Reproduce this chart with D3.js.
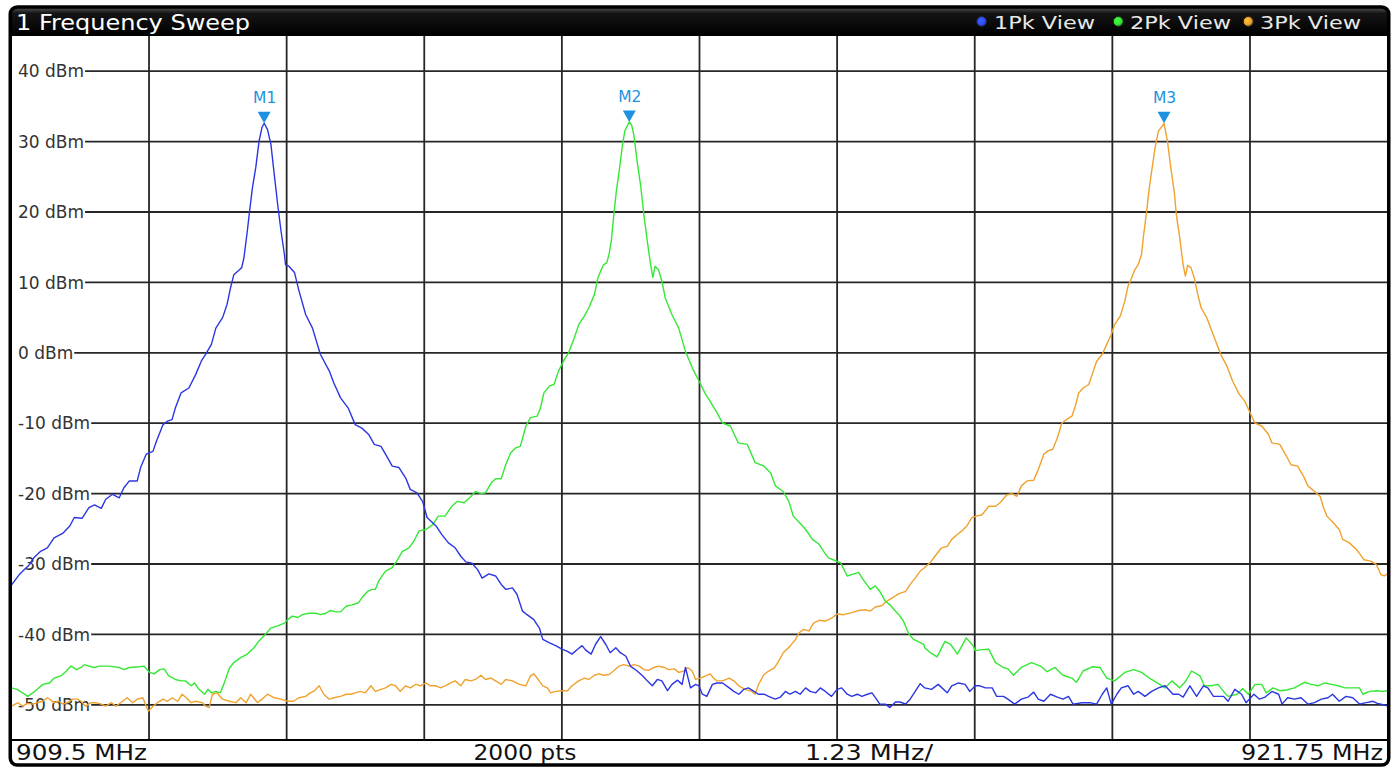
<!DOCTYPE html>
<html>
<head>
<meta charset="utf-8">
<script src="https://cdn.jsdelivr.net/npm/d3@7"></script>
<style>
  html, body { margin: 0; padding: 0; background: #fff; }
  svg { display: block; }
</style>
</head>
<body>
<svg id="chart" width="1396" height="767"></svg>
<script>
// ---- Sweep settings and labels ----
const windowTitle = "1 Frequency Sweep";
const traceNames = ["1Pk View", "2Pk View", "3Pk View"];
const startMHz = 909.5;
const stopMHz = 921.75;
const refTopDbm = 45;
const refBottomDbm = -55;
const levelTicks = [40, 30, 20, 10, 0, -10, -20, -30, -40, -50];
const footerLabels = ["909.5 MHz", "2000 pts", "1.23 MHz/", "921.75 MHz"];

// ---- Markers (frequency in MHz, level in dBm) ----
const markerNames = ["M1", "M2", "M3"];
const markerFreqs = [911.75, 915.00, 919.76];
const markerLevels = [32.6, 32.8, 32.6];

// ---- Trace 1 (1Pk View): [MHz, dBm] ----
const trace1 = [
  [909.50,-33.0],[909.57,-31.5],[909.66,-30.1],[909.70,-29.1],[909.76,-28.2],[909.82,-27.7],[909.88,-26.3],[909.96,-25.6],
  [910.02,-24.6],[910.06,-23.4],[910.13,-23.5],[910.19,-22.0],[910.24,-21.6],[910.30,-22.1],[910.34,-20.8],[910.40,-20.1],
  [910.46,-20.6],[910.50,-19.2],[910.55,-18.2],[910.62,-18.2],[910.65,-16.3],[910.70,-14.4],[910.76,-14.0],[910.79,-12.6],
  [910.85,-10.2],[910.89,-9.7],[910.93,-9.5],[910.96,-7.8],[911.01,-5.7],[911.08,-5.0],[911.14,-3.1],[911.19,-1.2],
  [911.23,-0.2],[911.28,1.2],[911.32,3.5],[911.38,5.0],[911.42,6.9],[911.45,9.2],[911.48,11.1],[911.53,11.8],
  [911.55,12.1],[911.57,13.5],[911.60,17.3],[911.62,20.1],[911.645,23.4],[911.675,26.3],[911.705,30.1],[911.73,32.0],
  [911.75,32.6],[911.78,31.7],[911.81,29.6],[911.84,25.3],[911.87,21.1],[911.90,17.3],[911.93,14.0],[911.94,12.5],
  [911.97,12.3],[912.02,11.4],[912.06,8.8],[912.12,5.4],[912.18,3.5],[912.25,-0.2],[912.33,-2.6],[912.37,-4.3],
  [912.43,-6.4],[912.50,-7.9],[912.56,-10.2],[912.62,-10.7],[912.68,-11.6],[912.73,-13.0],[912.79,-13.3],[912.83,-14.4],
  [912.89,-16.1],[912.95,-16.3],[913.01,-17.8],[913.05,-19.4],[913.11,-19.9],[913.16,-21.1],[913.20,-23.4],[913.28,-24.6],
  [913.33,-25.8],[913.39,-27.0],[913.45,-27.7],[913.50,-28.9],[913.545,-29.7],[913.60,-29.9],[913.65,-30.8],[913.69,-32.0],
  [913.75,-31.4],[913.81,-31.7],[913.86,-32.9],[913.90,-33.6],[913.96,-33.4],[914.00,-34.3],[914.05,-36.7],[914.09,-37.2],
  [914.15,-37.9],[914.20,-39.1],[914.23,-40.7],[914.29,-41.2],[914.345,-41.6],[914.40,-42.1],[914.45,-42.4],[914.49,-42.8],
  [914.54,-42.1],[914.58,-41.6],[914.61,-42.2],[914.66,-42.8],[914.70,-41.4],[914.745,-40.3],[914.79,-41.4],[914.83,-42.6],
  [914.88,-41.9],[914.92,-42.6],[914.97,-43.1],[915.01,-44.5],[915.07,-45.2],[915.12,-45.9],[915.16,-46.6],[915.205,-47.3],
  [915.25,-46.4],[915.29,-46.6],[915.34,-48.0],[915.38,-47.1],[915.43,-46.5],[915.47,-47.1],[915.50,-44.7],[915.545,-47.6],
  [915.59,-47.1],[915.62,-47.3],[915.65,-48.5],[915.69,-48.8],[915.74,-47.1],[915.78,-46.9],[915.83,-46.9],[915.89,-47.6],
  [915.93,-48.1],[915.975,-48.5],[916.02,-47.8],[916.06,-47.6],[916.11,-48.1],[916.15,-48.5],[916.20,-48.5],[916.24,-48.8],
  [916.30,-49.2],[916.345,-48.9],[916.39,-48.1],[916.43,-48.5],[916.48,-48.1],[916.52,-48.5],[916.57,-47.6],[916.61,-48.1],
  [916.66,-48.3],[916.70,-47.6],[916.745,-48.1],[916.80,-48.8],[916.85,-47.8],[916.89,-47.6],[916.94,-48.5],[916.98,-48.8],
  [917.03,-48.5],[917.07,-48.8],[917.12,-48.5],[917.16,-48.3],[917.20,-49.2],[917.23,-49.9],[917.28,-49.9],[917.32,-50.4],
  [917.37,-49.6],[917.41,-49.6],[917.46,-49.9],[917.50,-49.2],[917.545,-48.1],[917.59,-47.0],[917.63,-47.6],[917.69,-47.8],
  [917.75,-47.1],[917.83,-48.3],[917.87,-47.3],[917.93,-46.9],[917.99,-47.1],[918.03,-48.1],[918.08,-47.3],[918.12,-47.3],
  [918.17,-47.6],[918.23,-47.6],[918.27,-48.8],[918.33,-48.8],[918.37,-49.2],[918.43,-49.9],[918.49,-49.2],[918.55,-48.9],
  [918.60,-48.2],[918.64,-49.2],[918.69,-49.5],[918.75,-48.5],[918.81,-48.9],[918.86,-49.2],[918.91,-48.8],[918.95,-49.9],
  [919.03,-49.7],[919.10,-49.7],[919.16,-49.9],[919.21,-48.5],[919.25,-47.6],[919.29,-49.9],[919.34,-48.5],[919.38,-47.6],
  [919.44,-47.3],[919.49,-48.5],[919.53,-48.1],[919.59,-48.8],[919.65,-48.1],[919.71,-47.6],[919.77,-47.3],[919.84,-48.5],
  [919.89,-48.5],[919.93,-48.9],[919.99,-47.3],[920.05,-48.8],[920.11,-47.3],[920.15,-47.6],[920.20,-48.8],[920.24,-48.8],
  [920.29,-48.8],[920.33,-49.5],[920.39,-47.8],[920.45,-48.5],[920.49,-49.7],[920.56,-48.5],[920.61,-49.2],[920.66,-48.9],
  [920.72,-48.1],[920.78,-48.5],[920.81,-49.9],[920.86,-49.0],[920.92,-49.2],[920.98,-49.0],[921.04,-49.9],[921.10,-49.7],
  [921.16,-49.2],[921.22,-49.0],[921.26,-48.5],[921.32,-49.5],[921.38,-48.8],[921.44,-49.0],[921.50,-49.9],[921.56,-49.7],
  [921.62,-49.5],[921.66,-49.8],[921.74,-50.1],[921.75,-50.2]
];

// ---- Trace 2 (2Pk View): [MHz, dBm] ----
const trace2 = [
  [909.50,-47.6],[909.55,-47.8],[909.60,-48.3],[909.645,-48.8],[909.69,-48.3],[909.73,-47.8],[909.78,-47.1],[909.84,-46.9],
  [909.88,-46.2],[909.94,-45.9],[909.99,-45.2],[910.03,-44.5],[910.08,-45.0],[910.12,-44.7],[910.15,-44.3],[910.19,-44.5],
  [910.24,-44.7],[910.28,-44.5],[910.37,-44.5],[910.46,-44.7],[910.50,-45.0],[910.55,-44.7],[910.64,-44.6],[910.68,-44.5],
  [910.73,-45.4],[910.77,-45.6],[910.82,-45.0],[910.86,-44.9],[910.90,-45.9],[910.96,-46.4],[911.01,-46.6],[911.05,-46.6],
  [911.10,-47.3],[911.13,-46.9],[911.17,-47.8],[911.22,-48.5],[911.25,-47.8],[911.28,-48.3],[911.32,-48.1],[911.36,-48.3],
  [911.39,-47.1],[911.44,-44.8],[911.48,-44.0],[911.54,-43.3],[911.60,-42.8],[911.66,-41.9],[911.70,-41.0],[911.76,-40.0],
  [911.81,-39.1],[911.87,-38.8],[911.93,-38.4],[911.96,-37.9],[912.00,-37.4],[912.05,-37.6],[912.09,-37.2],[912.15,-37.0],
  [912.21,-37.0],[912.25,-37.2],[912.30,-37.0],[912.34,-36.6],[912.39,-36.8],[912.43,-36.8],[912.48,-36.0],[912.53,-35.8],
  [912.59,-35.5],[912.62,-34.8],[912.67,-33.9],[912.71,-33.6],[912.74,-33.6],[912.77,-32.4],[912.83,-31.0],[912.89,-30.5],
  [912.93,-29.6],[912.98,-28.2],[913.04,-27.7],[913.08,-26.8],[913.13,-25.3],[913.19,-25.1],[913.25,-24.4],[913.30,-23.2],
  [913.36,-23.2],[913.42,-21.8],[913.47,-21.1],[913.53,-21.3],[913.59,-20.4],[913.63,-19.7],[913.68,-20.0],[913.72,-19.9],
  [913.77,-18.5],[913.81,-17.9],[913.86,-17.9],[913.90,-15.9],[913.945,-14.2],[913.99,-13.5],[914.03,-13.3],[914.08,-10.4],
  [914.12,-9.2],[914.18,-9.0],[914.21,-7.8],[914.24,-5.7],[914.29,-4.7],[914.33,-4.5],[914.37,-2.6],[914.42,-1.0],
  [914.46,0.0],[914.51,2.1],[914.55,4.0],[914.60,5.2],[914.64,6.4],[914.69,8.3],[914.72,10.6],[914.745,11.6],
  [914.77,12.5],[914.80,12.8],[914.82,14.0],[914.84,15.9],[914.86,19.2],[914.885,23.0],[914.91,25.8],[914.94,29.6],
  [914.96,31.5],[915.00,32.8],[915.02,32.4],[915.04,31.0],[915.07,27.2],[915.10,23.9],[915.13,19.6],[915.16,15.9],
  [915.19,12.5],[915.21,10.7],[915.23,12.3],[915.26,11.8],[915.29,10.2],[915.32,7.8],[915.38,5.4],[915.44,3.5],
  [915.50,0.2],[915.56,-2.1],[915.62,-4.0],[915.68,-5.9],[915.72,-6.9],[915.78,-8.5],[915.83,-10.0],[915.90,-10.4],
  [915.97,-12.8],[916.05,-13.0],[916.12,-15.6],[916.20,-16.1],[916.26,-17.1],[916.30,-18.9],[916.37,-19.7],[916.42,-21.1],
  [916.46,-23.2],[916.52,-24.2],[916.57,-25.1],[916.63,-26.5],[916.69,-27.2],[916.73,-28.2],[916.77,-29.1],[916.83,-29.5],
  [916.88,-29.8],[916.94,-31.7],[917.00,-31.4],[917.04,-31.2],[917.09,-32.4],[917.145,-33.6],[917.19,-33.1],[917.23,-33.9],
  [917.28,-35.3],[917.32,-35.8],[917.37,-36.7],[917.40,-37.2],[917.44,-38.1],[917.49,-40.0],[917.53,-40.7],[917.57,-41.0],
  [917.62,-41.4],[917.63,-41.9],[917.68,-42.6],[917.74,-43.2],[917.81,-41.0],[917.86,-41.4],[917.92,-42.8],[918.00,-40.5],
  [918.06,-41.6],[918.08,-42.3],[918.12,-42.2],[918.20,-42.1],[918.26,-44.0],[918.33,-44.7],[918.37,-44.9],[918.42,-45.8],
  [918.49,-44.7],[918.58,-44.0],[918.66,-44.5],[918.72,-45.3],[918.79,-44.7],[918.86,-45.8],[918.94,-46.2],[918.98,-46.8],
  [919.04,-45.2],[919.12,-44.6],[919.19,-44.7],[919.25,-46.2],[919.32,-46.6],[919.41,-45.4],[919.49,-45.0],[919.56,-45.4],
  [919.63,-46.2],[919.71,-47.0],[919.77,-47.6],[919.83,-46.6],[919.90,-47.6],[919.95,-46.7],[920.005,-45.2],[920.08,-45.9],
  [920.12,-47.3],[920.18,-47.3],[920.24,-47.1],[920.29,-48.1],[920.33,-48.8],[920.41,-48.5],[920.46,-47.7],[920.51,-48.5],
  [920.57,-47.1],[920.63,-47.1],[920.67,-48.3],[920.73,-47.6],[920.79,-48.0],[920.85,-47.9],[920.92,-47.6],[921.01,-46.8],
  [921.07,-47.1],[921.13,-47.3],[921.19,-46.9],[921.25,-47.1],[921.31,-47.3],[921.37,-47.6],[921.43,-47.6],[921.50,-47.6],
  [921.53,-48.5],[921.59,-48.1],[921.65,-48.0],[921.71,-48.1],[921.75,-48.0]
];

// ---- Trace 3 (3Pk View): [MHz, dBm] ----
const trace3 = [
  [909.50,-50.2],[909.56,-49.7],[909.60,-50.2],[909.645,-49.8],[909.69,-49.9],[909.73,-49.7],[909.78,-49.5],[909.82,-49.0],
  [909.85,-49.3],[909.88,-49.7],[909.92,-49.5],[909.96,-49.9],[910.00,-49.7],[910.045,-49.2],[910.09,-49.2],[910.12,-49.5],
  [910.16,-50.2],[910.21,-49.7],[910.25,-49.7],[910.30,-49.9],[910.34,-50.2],[910.39,-49.7],[910.43,-50.2],[910.49,-49.5],
  [910.53,-49.0],[910.58,-49.7],[910.62,-49.2],[910.67,-49.0],[910.70,-50.2],[910.72,-50.9],[910.76,-50.2],[910.80,-49.7],
  [910.85,-49.2],[910.89,-49.5],[910.93,-49.0],[910.98,-49.5],[911.02,-48.5],[911.07,-49.2],[911.10,-49.7],[911.14,-49.5],
  [911.20,-49.7],[911.23,-50.2],[911.26,-50.4],[911.29,-48.5],[911.33,-48.3],[911.38,-49.2],[911.44,-49.5],[911.50,-49.7],
  [911.54,-49.0],[911.59,-49.7],[911.63,-48.5],[911.69,-49.7],[911.73,-49.2],[911.78,-48.5],[911.84,-49.0],[911.90,-49.2],
  [911.96,-49.5],[912.01,-49.5],[912.06,-49.0],[912.12,-48.8],[912.16,-48.3],[912.19,-48.1],[912.24,-47.3],[912.28,-48.5],
  [912.33,-49.2],[912.37,-49.0],[912.43,-48.8],[912.48,-48.5],[912.52,-48.5],[912.56,-48.3],[912.61,-48.1],[912.65,-48.3],
  [912.70,-47.3],[912.74,-48.1],[912.79,-47.8],[912.83,-47.6],[912.88,-47.1],[912.92,-47.3],[912.96,-48.1],[913.01,-47.3],
  [913.05,-47.6],[913.10,-47.1],[913.14,-47.3],[913.19,-46.9],[913.23,-47.3],[913.28,-47.3],[913.32,-47.6],[913.36,-47.3],
  [913.41,-46.9],[913.45,-46.6],[913.50,-47.3],[913.54,-46.4],[913.59,-46.6],[913.63,-46.4],[913.68,-45.8],[913.72,-46.4],
  [913.77,-46.2],[913.81,-46.6],[913.86,-47.1],[913.90,-46.4],[913.96,-46.6],[914.02,-47.1],[914.08,-47.3],[914.12,-45.9],
  [914.15,-45.6],[914.18,-46.2],[914.23,-47.3],[914.27,-47.6],[914.30,-48.3],[914.345,-48.1],[914.40,-48.0],[914.45,-48.0],
  [914.49,-47.3],[914.55,-46.6],[914.60,-46.2],[914.64,-46.4],[914.69,-45.8],[914.73,-45.6],[914.77,-45.8],[914.82,-45.7],
  [914.86,-45.2],[914.91,-44.5],[914.95,-44.3],[915.00,-44.5],[915.04,-44.3],[915.09,-44.5],[915.13,-45.0],[915.17,-45.1],
  [915.22,-44.7],[915.26,-44.5],[915.31,-44.7],[915.35,-45.0],[915.40,-44.9],[915.44,-45.4],[915.49,-45.2],[915.52,-44.7],
  [915.56,-45.2],[915.59,-46.4],[915.63,-46.2],[915.68,-45.9],[915.72,-45.6],[915.75,-46.2],[915.78,-46.6],[915.83,-46.6],
  [915.89,-46.2],[915.93,-46.6],[915.975,-47.3],[916.03,-47.8],[916.09,-48.1],[916.12,-48.5],[916.15,-47.1],[916.20,-45.7],
  [916.24,-45.2],[916.29,-44.8],[916.33,-43.8],[916.37,-42.6],[916.43,-41.7],[916.48,-40.7],[916.51,-39.8],[916.55,-39.3],
  [916.60,-39.5],[916.64,-38.4],[916.69,-38.0],[916.745,-38.1],[916.80,-37.7],[916.85,-37.1],[916.91,-37.2],[916.98,-36.9],
  [917.04,-36.6],[917.10,-36.5],[917.145,-36.7],[917.19,-36.1],[917.25,-35.9],[917.29,-35.3],[917.34,-34.8],[917.40,-34.2],
  [917.46,-33.9],[917.50,-32.9],[917.545,-32.0],[917.59,-31.0],[917.63,-30.5],[917.68,-29.8],[917.72,-28.9],[917.78,-27.7],
  [917.83,-27.5],[917.87,-26.5],[917.92,-25.8],[917.96,-25.3],[918.005,-24.6],[918.05,-23.4],[918.09,-23.2],[918.14,-23.0],
  [918.20,-21.8],[918.26,-21.8],[918.30,-21.3],[918.36,-20.2],[918.405,-20.0],[918.45,-20.4],[918.49,-18.9],[918.54,-18.2],
  [918.60,-18.1],[918.64,-16.6],[918.69,-14.4],[918.73,-13.9],[918.77,-13.7],[918.81,-12.1],[918.85,-10.0],[918.89,-9.5],
  [918.94,-9.0],[918.97,-7.6],[919.00,-5.7],[919.04,-5.0],[919.09,-4.5],[919.13,-2.6],[919.16,-1.2],[919.21,-0.2],
  [919.25,1.2],[919.29,2.6],[919.32,4.0],[919.37,5.2],[919.41,7.3],[919.44,9.5],[919.47,10.6],[919.50,11.8],
  [919.53,12.5],[919.56,14.0],[919.575,16.3],[919.605,20.1],[919.625,23.0],[919.65,25.8],[919.68,29.1],[919.71,31.5],
  [919.76,32.6],[919.79,30.1],[919.82,26.3],[919.85,23.0],[919.87,19.6],[919.90,16.3],[919.93,12.5],[919.95,10.9],
  [919.97,12.4],[920.00,12.1],[920.03,10.6],[920.06,8.3],[920.09,6.4],[920.14,5.0],[920.18,3.3],[920.23,1.2],
  [920.27,-0.4],[920.32,-1.9],[920.37,-4.0],[920.43,-5.9],[920.48,-6.9],[920.52,-8.3],[920.57,-10.0],[920.63,-10.4],
  [920.69,-11.6],[920.72,-12.8],[920.79,-13.0],[920.85,-14.7],[920.89,-15.9],[920.95,-16.1],[921.01,-17.8],[921.04,-18.9],
  [921.10,-19.7],[921.15,-20.4],[921.18,-22.0],[921.21,-23.2],[921.27,-24.2],[921.32,-25.1],[921.35,-26.5],[921.41,-27.0],
  [921.47,-27.9],[921.51,-28.7],[921.54,-29.4],[921.60,-29.6],[921.65,-30.1],[921.69,-31.5],[921.72,-31.7],[921.75,-31.4]
];

const traces = [trace1, trace2, trace3];

// ---- Styling ----
const traceColors = ["#2b36e3", "#35e835", "#f0a12e"];
const dotColors = ["#2f4dff", "#35e835", "#f0a12e"];
const markerColor = "#1c92e0";
const gridColor = "#262626";
const fontFamily = "'DejaVu Sans', Verdana, sans-serif";

// ---- Layout ----
const W = 1396, H = 767;
const frame = { left: 10.25, right: 1388.75, top: 7, bottom: 765, radius: 7 };
const plot = { left: 11.4, right: 1387.6, top: 36, bottom: 740 };

const svg = d3.select("#chart");
svg.append("rect").attr("width", W).attr("height", H).attr("fill", "#fff");

const defs = svg.append("defs");
const titleGrad = defs.append("linearGradient")
  .attr("id", "titleGrad").attr("x1", 0).attr("y1", 0).attr("x2", 0).attr("y2", 1);
titleGrad.append("stop").attr("offset", "0%").attr("stop-color", "#5a5a5a");
titleGrad.append("stop").attr("offset", "22%").attr("stop-color", "#141414");
titleGrad.append("stop").attr("offset", "100%").attr("stop-color", "#000");

dotColors.forEach((c, i) => {
  const g = defs.append("radialGradient").attr("id", "dot" + i)
    .attr("cx", "40%").attr("cy", "40%").attr("r", "60%");
  g.append("stop").attr("offset", "0%").attr("stop-color", d3.color(c).brighter(0.6));
  g.append("stop").attr("offset", "65%").attr("stop-color", c);
  g.append("stop").attr("offset", "100%").attr("stop-color", d3.color(c).darker(1.2));
});

defs.append("clipPath").attr("id", "plotClip")
  .append("rect")
  .attr("x", plot.left).attr("y", plot.top)
  .attr("width", plot.right - plot.left).attr("height", plot.bottom - plot.top);

// Scales
const x = d3.scaleLinear().domain([startMHz, stopMHz]).range([plot.left, plot.right]);
const y = d3.scaleLinear().domain([refBottomDbm, refTopDbm]).range([plot.bottom, plot.top]);

// Window frame (white body)
svg.append("rect")
  .attr("x", frame.left).attr("y", frame.top)
  .attr("width", frame.right - frame.left).attr("height", frame.bottom - frame.top)
  .attr("rx", frame.radius).attr("ry", frame.radius)
  .attr("fill", "#fff");

// Vertical grid (10 divisions)
const divisions = 10;
const vLines = d3.range(1, divisions).map(k => startMHz + k * (stopMHz - startMHz) / divisions);
svg.append("g").selectAll("line").data(vLines).join("line")
  .attr("x1", d => x(d)).attr("x2", d => x(d))
  .attr("y1", plot.top).attr("y2", plot.bottom)
  .attr("stroke", gridColor).attr("stroke-width", 1.8);

// Level labels with grid lines starting after each label
const labelG = svg.append("g");
levelTicks.forEach(v => {
  const t = labelG.append("text")
    .attr("x", 18).attr("y", y(v) + 6.2)
    .attr("font-family", fontFamily).attr("font-size", 17)
    .attr("fill", "#333")
    .text(v + " dBm");
  const endX = 18 + t.node().getComputedTextLength() + 1;
  labelG.append("line")
    .attr("x1", endX).attr("x2", plot.right)
    .attr("y1", y(v)).attr("y2", y(v))
    .attr("stroke", gridColor).attr("stroke-width", 1.8);
});

// Traces
const line = d3.line().x(d => x(d[0])).y(d => y(d[1]));
const traceG = svg.append("g").attr("clip-path", "url(#plotClip)");
[2, 1, 0].forEach(i => {
  traceG.append("path")
    .datum(traces[i])
    .attr("d", line)
    .attr("fill", "none")
    .attr("stroke", traceColors[i])
    .attr("stroke-width", 1.4)
    .attr("stroke-linejoin", "round");
});

// Markers
const markerG = svg.append("g");
markerNames.forEach((name, i) => {
  const mx = x(markerFreqs[i]);
  const my = y(markerLevels[i]);
  markerG.append("path")
    .attr("d", `M${mx - 6.5},${my - 11.5}L${mx + 6.5},${my - 11.5}L${mx},${my}Z`)
    .attr("fill", markerColor);
  markerG.append("text")
    .attr("x", mx + 0.5).attr("y", my - 20)
    .attr("text-anchor", "middle")
    .attr("font-family", fontFamily).attr("font-size", 15.5)
    .attr("fill", markerColor)
    .text(name);
});

// Title bar with rounded top corners
const r = frame.radius;
svg.append("path")
  .attr("d", `M${frame.left},${plot.top} L${frame.left},${frame.top + r} Q${frame.left},${frame.top} ${frame.left + r},${frame.top}
              L${frame.right - r},${frame.top} Q${frame.right},${frame.top} ${frame.right},${frame.top + r}
              L${frame.right},${plot.top} Z`)
  .attr("fill", "url(#titleGrad)");

svg.append("text")
  .attr("x", 16).attr("y", 29.5)
  .attr("font-family", fontFamily).attr("font-size", 21)
  .attr("fill", "#fff")
  .attr("textLength", 234).attr("lengthAdjust", "spacingAndGlyphs")
  .text(windowTitle);

// Legend in title bar
const legendDotX = [981.7, 1118.3, 1248.3];
const legendTextX = [994, 1130, 1260];
traceNames.forEach((n, i) => {
  svg.append("circle")
    .attr("cx", legendDotX[i]).attr("cy", 21.5).attr("r", 5)
    .attr("fill", `url(#dot${i})`)
    .attr("stroke", "#202020").attr("stroke-width", 1);
  svg.append("text")
    .attr("x", legendTextX[i]).attr("y", 28.5)
    .attr("font-family", fontFamily).attr("font-size", 18.5)
    .attr("fill", "#e8e8e8")
    .attr("textLength", 101).attr("lengthAdjust", "spacingAndGlyphs")
    .text(n);
});

// Footer separator and outer border
svg.append("line")
  .attr("x1", frame.left).attr("x2", frame.right)
  .attr("y1", plot.bottom).attr("y2", plot.bottom)
  .attr("stroke", "#000").attr("stroke-width", 2);

svg.append("rect")
  .attr("x", frame.left).attr("y", frame.top)
  .attr("width", frame.right - frame.left).attr("height", frame.bottom - frame.top)
  .attr("rx", r).attr("ry", r)
  .attr("fill", "none").attr("stroke", "#000").attr("stroke-width", 3.5);

// Footer labels
const footerX = [16, 525, 805, 1383];
const footerAnchor = ["start", "middle", "start", "end"];
const footerLen = [131, 103, 128, 142];
footerLabels.forEach((t, i) => {
  svg.append("text")
    .attr("x", footerX[i]).attr("y", 760)
    .attr("text-anchor", footerAnchor[i])
    .attr("font-family", fontFamily).attr("font-size", 21)
    .attr("fill", "#111")
    .attr("textLength", footerLen[i]).attr("lengthAdjust", "spacingAndGlyphs")
    .text(t);
});
</script>
</body>
</html>
